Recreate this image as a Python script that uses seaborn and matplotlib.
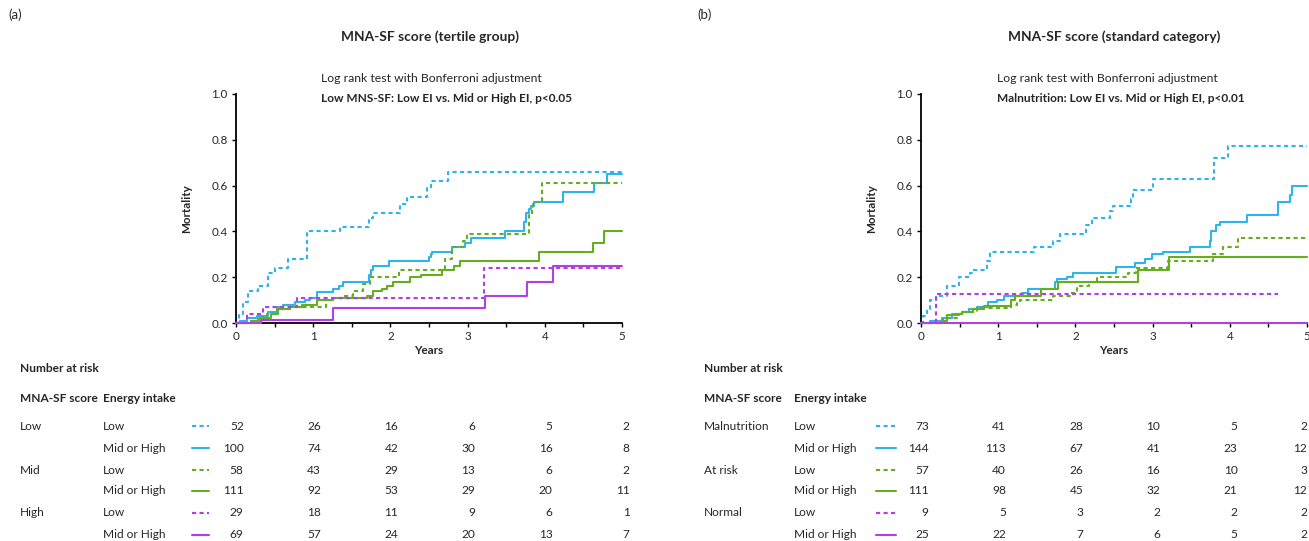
import matplotlib
matplotlib.use('Agg')
import matplotlib.pyplot as plt
import matplotlib.transforms as mtransforms
from matplotlib.lines import Line2D
from matplotlib.ticker import MultipleLocator
import seaborn as sns

# ---------------- panel (a): MNA-SF tertile group ----------------
a_low_low_t = [0, 0.04, 0.09, 0.16, 0.29, 0.42, 0.5, 0.68, 0.92, 1.35, 1.72, 1.78, 2.12, 2.22, 2.48, 2.52, 2.74, 5.0]
a_low_low_y = [0, 0.04, 0.09, 0.14, 0.16, 0.22, 0.24, 0.28, 0.40, 0.42, 0.46, 0.48, 0.52, 0.55, 0.59, 0.62, 0.66, 0.66]
a_low_mid_t = [0, 0.05, 0.14, 0.27, 0.42, 0.53, 0.61, 0.77, 0.90, 0.96, 1.05, 1.26, 1.33, 1.39, 1.72, 1.75, 1.77,
               1.98, 2.50, 2.52, 2.54, 2.80, 2.97, 3.04, 3.49, 3.73, 3.76, 3.79, 3.82, 3.86, 4.23, 4.64, 4.81, 5.0]
a_low_mid_y = [0, 0.01, 0.02, 0.03, 0.05, 0.07, 0.08, 0.09, 0.10, 0.11, 0.135, 0.15, 0.16, 0.18, 0.21, 0.23, 0.25,
               0.27, 0.29, 0.30, 0.31, 0.33, 0.35, 0.37, 0.40, 0.44, 0.48, 0.50, 0.51, 0.53, 0.57, 0.61, 0.65, 0.65]
a_mid_low_t = [0, 0.20, 0.29, 0.40, 0.53, 0.70, 1.16, 1.20, 1.39, 1.52, 1.65, 1.74, 2.11, 2.71, 2.80, 2.94, 2.99,
               3.80, 3.83, 3.85, 3.97, 5.0]
a_mid_low_y = [0, 0.01, 0.02, 0.04, 0.06, 0.07, 0.10, 0.11, 0.12, 0.14, 0.17, 0.20, 0.23, 0.28, 0.33, 0.36, 0.39,
               0.47, 0.50, 0.53, 0.61, 0.61]
a_mid_mid_t = [0, 0.20, 0.30, 0.45, 0.55, 0.70, 0.85, 1.05, 1.26, 1.70, 1.78, 1.89, 1.96, 2.04, 2.26, 2.39, 2.67,
               2.82, 2.90, 3.93, 4.62, 4.77, 5.0]
a_mid_mid_y = [0, 0.01, 0.02, 0.04, 0.06, 0.07, 0.08, 0.10, 0.11, 0.12, 0.14, 0.15, 0.16, 0.18, 0.20, 0.21, 0.23,
               0.25, 0.27, 0.31, 0.35, 0.40, 0.40]
a_high_low_t = [0, 0.14, 0.35, 0.79, 3.21, 5.0]
a_high_low_y = [0, 0.04, 0.07, 0.11, 0.24, 0.24]
a_high_mid_t = [0, 0.32, 1.26, 3.23, 3.77, 4.10, 5.0]
a_high_mid_y = [0, 0.015, 0.065, 0.12, 0.18, 0.25, 0.25]

a_groups = ['Low', '', 'Mid', '', 'High', '']
a_risk = [[52, 26, 16, 6, 5, 2],
          [100, 74, 42, 30, 16, 8],
          [58, 43, 29, 13, 6, 2],
          [111, 92, 53, 29, 20, 11],
          [29, 18, 11, 9, 6, 1],
          [69, 57, 24, 20, 13, 7]]

# ---------------- panel (b): MNA-SF standard category ----------------
b_mal_low_t = [0, 0.03, 0.08, 0.12, 0.20, 0.34, 0.49, 0.64, 0.68, 0.85, 0.90, 1.46, 1.71, 1.80, 2.14, 2.21, 2.45,
               2.49, 2.72, 2.75, 3.01, 3.80, 3.98, 5.0]
b_mal_low_y = [0, 0.03, 0.06, 0.10, 0.12, 0.16, 0.20, 0.22, 0.23, 0.27, 0.31, 0.33, 0.36, 0.39, 0.43, 0.46, 0.49,
               0.51, 0.54, 0.58, 0.63, 0.72, 0.775, 0.775]
b_mal_mid_t = [0, 0.12, 0.27, 0.40, 0.53, 0.62, 0.72, 0.87, 0.98, 1.07, 1.31, 1.39, 1.74, 1.76, 1.89, 1.97, 2.53,
               2.77, 2.90, 2.99, 3.14, 3.48, 3.74, 3.76, 3.82, 3.87, 4.22, 4.63, 4.78, 4.81, 5.0]
b_mal_mid_y = [0, 0.01, 0.02, 0.04, 0.05, 0.06, 0.07, 0.09, 0.10, 0.12, 0.13, 0.15, 0.18, 0.19, 0.20, 0.22, 0.245,
               0.26, 0.28, 0.30, 0.31, 0.33, 0.36, 0.40, 0.43, 0.44, 0.47, 0.53, 0.56, 0.60, 0.60]
b_risk_low_t = [0, 0.29, 0.47, 0.55, 0.72, 1.16, 1.24, 1.28, 1.71, 1.93, 2.02, 2.17, 2.28, 2.68, 2.79, 3.20, 3.78,
                3.91, 4.11, 5.0]
b_risk_low_y = [0, 0.02, 0.04, 0.05, 0.065, 0.08, 0.09, 0.10, 0.12, 0.13, 0.16, 0.18, 0.20, 0.22, 0.24, 0.27, 0.30,
                0.33, 0.37, 0.37]
b_risk_mid_t = [0, 0.27, 0.34, 0.49, 0.53, 0.68, 0.81, 1.16, 1.22, 1.56, 1.78, 2.81, 3.21, 5.0]
b_risk_mid_y = [0, 0.01, 0.035, 0.04, 0.05, 0.06, 0.075, 0.10, 0.12, 0.15, 0.18, 0.23, 0.29, 0.29]
b_norm_low_t = [0, 0.19, 4.63]
b_norm_low_y = [0, 0.125, 0.125]
b_norm_mid_t = [0, 5.0]
b_norm_mid_y = [0, 0]

b_groups = ['Malnutrition', '', 'At risk', '', 'Normal', '']
b_risk = [[73, 41, 28, 10, 5, 2],
          [144, 113, 67, 41, 23, 12],
          [57, 40, 26, 16, 10, 3],
          [111, 98, 45, 32, 21, 12],
          [9, 5, 3, 2, 2, 2],
          [25, 22, 7, 6, 5, 2]]

ei_labels = ['Low', 'Mid or High', 'Low', 'Mid or High', 'Low', 'Mid or High']
years = [0, 1, 2, 3, 4, 5]

blue, green, purple = '#2fb3ec', '#66ad1f', '#b23fe4'
dash = (0, (2, 1.6))
row_colors = [blue, blue, green, green, purple, purple]
row_styles = [dash, '-', dash, '-', dash, '-']

W, H = 1309, 541
sns.set_style('ticks')
plt.rcParams['font.family'] = ['Lato', 'DejaVu Sans']
plt.rcParams['font.size'] = 8.6

fig = plt.figure(figsize=(W / 100, H / 100), dpi=100)


def fx(x):
    return x / W


def fy(y):
    return 1 - y / H


def draw_panel(left_px, curves, tag, tag_x, title, title_x, note_x, note_bold, groups, risk, grp_x, ei_x, smp_x):
    ax = fig.add_axes([fx(left_px), fy(323), 386 / W, 229 / H])
    for (t, y), c, ls in zip(curves, row_colors, row_styles):
        sns.lineplot(x=t, y=y, ax=ax, color=c, linestyle=ls, drawstyle='steps-post',
                     linewidth=1.5, estimator=None, clip_on=False, zorder=3)
    ax.set_xlim(0, 5)
    ax.set_ylim(0, 1)
    ax.xaxis.set_major_locator(MultipleLocator(1))
    ax.xaxis.set_minor_locator(MultipleLocator(0.5))
    ax.yaxis.set_major_locator(MultipleLocator(0.2))
    ax.yaxis.set_major_formatter(matplotlib.ticker.FormatStrFormatter('%.1f'))
    ax.tick_params(which='both', direction='out', length=3, width=1, color='black', labelsize=8.4, pad=3)
    for s in ['left', 'bottom']:
        ax.spines[s].set_linewidth(1.3)
        ax.spines[s].set_color('black')
    sns.despine(ax=ax)
    ax.set_xlabel('Years', fontweight='bold', fontsize=8.4, labelpad=2)
    ax.set_ylabel('Mortality', fontweight='bold', fontsize=8.4, labelpad=14)

    fig.text(fx(tag_x), fy(15), tag, fontsize=9.5, va='center', ha='left')
    fig.text(fx(title_x), fy(37), title, fontsize=9.9, fontweight='bold', va='center', ha='center')
    fig.text(fx(note_x), fy(78), 'Log rank test with Bonferroni adjustment', fontsize=8.8, va='center')
    fig.text(fx(note_x), fy(99), note_bold, fontsize=8.6, fontweight='bold', va='center')

    # number-at-risk table
    fig.text(fx(grp_x), fy(368), 'Number at risk', fontweight='bold', va='center')
    fig.text(fx(grp_x), fy(399), 'MNA-SF score', fontweight='bold', va='center')
    fig.text(fx(ei_x), fy(399), 'Energy intake', fontweight='bold', va='center')
    tr = mtransforms.blended_transform_factory(fig.transFigure, fig.transFigure)
    row_y = [426, 448, 470, 491, 513, 535]
    for i, ry in enumerate(row_y):
        if groups[i]:
            fig.text(fx(grp_x), fy(ry), groups[i], va='center')
        fig.text(fx(ei_x), fy(ry), ei_labels[i], va='center')
        fig.add_artist(Line2D([fx(smp_x[0]), fx(smp_x[1])], [fy(ry), fy(ry)], color=row_colors[i],
                              linestyle=row_styles[i], linewidth=1.5, transform=fig.transFigure))
        for yr, n in zip(years, risk[i]):
            xpix = ax.transData.transform((yr + 0.1, 0))[0]
            xpix = min(xpix, W - 2)
            fig.text(fx(xpix), fy(ry), str(n), transform=tr, va='center', ha='right')
    return ax


a_curves = [(a_low_low_t, a_low_low_y), (a_low_mid_t, a_low_mid_y), (a_mid_low_t, a_mid_low_y),
            (a_mid_mid_t, a_mid_mid_y), (a_high_low_t, a_high_low_y), (a_high_mid_t, a_high_mid_y)]
b_curves = [(b_mal_low_t, b_mal_low_y), (b_mal_mid_t, b_mal_mid_y), (b_risk_low_t, b_risk_low_y),
            (b_risk_mid_t, b_risk_mid_y), (b_norm_low_t, b_norm_low_y), (b_norm_mid_t, b_norm_mid_y)]

draw_panel(236, a_curves, '(a)', 8, 'MNA-SF score (tertile group)', 430, 321,
           'Low MNS-SF: Low EI vs. Mid or High EI, p<0.05', a_groups, a_risk, 20, 103, (192, 209))
draw_panel(921, b_curves, '(b)', 697, 'MNA-SF score (standard category)', 1114, 997,
           'Malnutrition: Low EI vs. Mid or High EI, p<0.01', b_groups, b_risk, 704, 794, (876, 896))

fig.savefig('out.png', dpi=100)
